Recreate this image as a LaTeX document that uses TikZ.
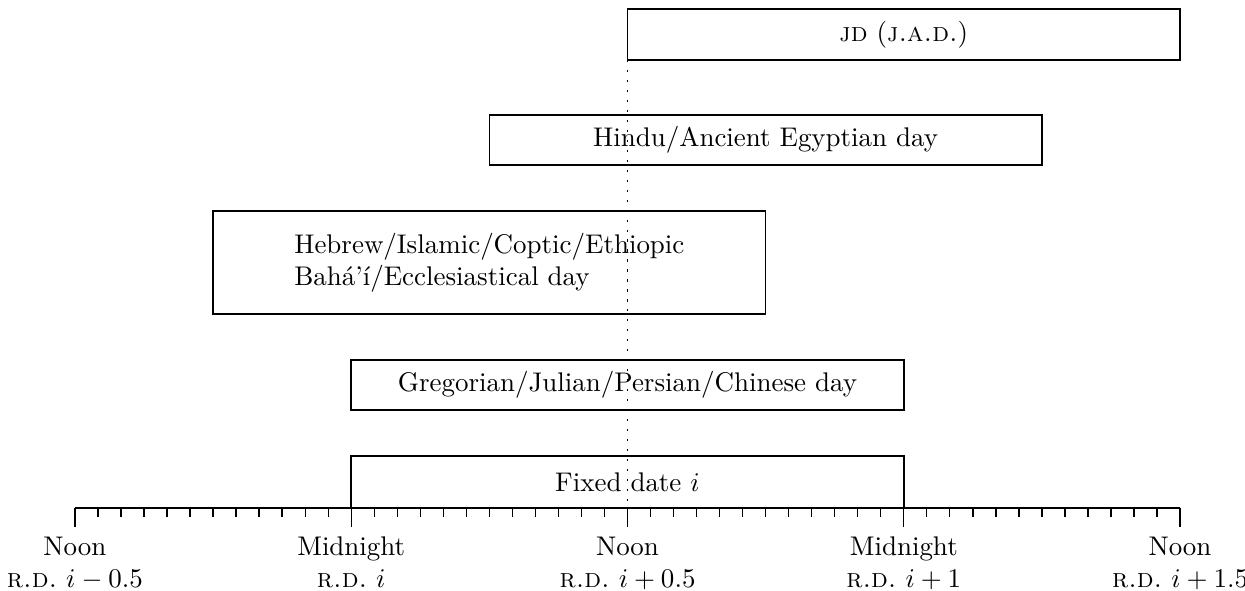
\documentclass[tikz,border=0pt]{standalone}
\usepackage{tikz}

\begin{document}
\begin{tikzpicture}
\useasboundingbox (-0.977,-1.069) rectangle (15.247,6.62);
\tikzset{daybox/.style={draw,semithick}}

% the kinds of day
\draw[daybox] (7.2,5.84) rectangle ++(7.2,0.66) node[midway] (jd) {\textsc{jd} (\textsc{j.a.d.})};
\draw[daybox] (5.4,4.47) rectangle ++(7.2,0.65) node[midway] (hindu) {Hindu/Ancient Egyptian day};
\draw[daybox] (1.8,2.53) rectangle ++(7.2,1.34) node[midway,align=left] (hebrew) {Hebrew/Islamic/Coptic/Ethiopic\\Bah\'a'\'{\i}/Ecclesiastical day};
\draw[daybox] (3.6,1.28) rectangle ++(7.2,0.65) node[midway] (gregorian) {Gregorian/Julian/Persian/Chinese day};
\draw[daybox] (3.6,0) rectangle ++(7.2,0.68) node[midway] (fixed) {Fixed date $i$};

% noon line
\draw[dash pattern=on 0.8pt off 2.9pt] (7.2,5.84) -- (7.2,0);

% time axis
\foreach \x in {0,1,...,48}{
\draw[line width=0.5pt] (\x*0.3,0) -- ++(0,-0.12);
}
\foreach \x/\when/\rd in {0/Noon/{i-0.5},1/Midnight/i,2/Noon/{i+0.5},3/Midnight/{i+1},4/Noon/{i+1.5}}{
\draw[line width=0.5pt] (\x*3.6,0) -- ++(0,-0.25) node[below,align=center] (tick\x) {\when\\\textsc{r.d.}~$\rd$};
}
\draw[thick] (0,0) -- (14.4,0);
\end{tikzpicture}
\end{document}
